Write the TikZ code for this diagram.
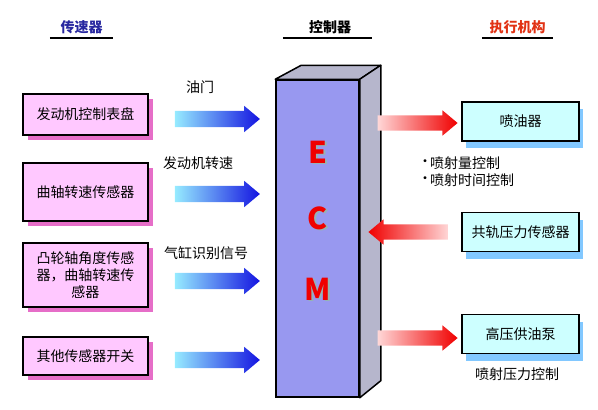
\documentclass[tikz,border=0pt]{standalone}
\usepackage{fontspec}
\setmainfont{Noto Sans CJK SC}
\usetikzlibrary{shapes.arrows,shadows,calc}
\tikzset{>=latex}
\definecolor{sensorfill}{RGB}{255,200,255}
\definecolor{sensorshadow}{RGB}{230,110,200}
\definecolor{actfill}{RGB}{205,255,255}
\definecolor{actshadow}{RGB}{130,200,255}
\definecolor{ecmfront}{RGB}{152,152,240}
\definecolor{ecmside}{RGB}{182,182,204}
\definecolor{inblue}{RGB}{20,20,225}
\definecolor{inlight}{RGB}{150,235,255}
\definecolor{outred}{RGB}{240,0,0}
\definecolor{outlight}{RGB}{255,215,215}
\definecolor{headblue}{RGB}{40,40,160}
\definecolor{headred}{RGB}{225,50,20}
\definecolor{halo}{RGB}{150,180,180}

\begin{document}
\begin{tikzpicture}[x=1pt,y=-1pt,font=\fontsize{14}{17}\selectfont]
	\tikzstyle{sensor} = [draw=black, line width=1.3pt, fill=sensorfill, minimum width=125pt, align=center, inner sep=0pt, drop shadow={shadow xshift=5pt, shadow yshift=-5pt, fill=sensorshadow, opacity=1}]
	\tikzstyle{actuator} = [draw=black, line width=1.3pt, fill=actfill, minimum width=117pt, minimum height=39pt, inner sep=0pt, drop shadow={shadow xshift=4pt, shadow yshift=-7pt, fill=actshadow, opacity=1}]
	\tikzstyle{header} = [font=\fontsize{14}{17}\selectfont\bfseries, minimum height=22pt, inner sep=0pt]
	\tikzstyle{underline} = [line width=2.5pt]
	\tikzstyle{signal} = [single arrow, minimum height=85pt, inner xsep=0pt, inner ysep=8pt, single arrow head extend=5pt, single arrow tip angle=80, left color=inlight, right color=inblue]
	\tikzstyle{command} = [single arrow, minimum height=80pt, inner xsep=0pt, inner ysep=7.5pt, single arrow head extend=5pt, single arrow tip angle=80]
	\tikzstyle{letter} = [text=outred, font=\fontsize{30}{30}\selectfont\bfseries, inner sep=0pt]

	\useasboundingbox (0,0) rectangle (598,410);

%----------标题------------------------------------------------
	\node[header, text=headblue, minimum width=63pt] (h1) at (81.5,27) {传速器};
	\node[header, minimum width=89pt] (h2) at (327.5,27) {\hspace{5pt}控制器};
	\node[header, text=headred, minimum width=71pt] (h3) at (517.5,27) {执行机构};

	\draw[underline] (h1.south west) -- (h1.south east);
	\draw[underline] (h2.south west) -- (h2.south east);
	\draw[underline] (h3.south west) -- (h3.south east);

%----------传感器----------------------------------------------
	\node[sensor, minimum height=41pt] (s1) at (85.5,114.5) {发动机控制表盘};
	\node[sensor, minimum height=58pt] (s2) at (85.5,192) {曲轴转速传感器};
	\node[sensor, minimum height=64pt] (s3) at (85.5,275) {凸轮轴角度传感\\器，曲轴转速传\\感器};
	\node[sensor, minimum height=38pt] (s4) at (85.5,356) {其他传感器开关};

	\node[signal] (a1) at (212.5,119) {};
	\node[signal] (a2) at (212.5,194) {};
	\node[signal] (a3) at (212.5,281) {};
	\node[signal] (a4) at (212.5,360) {};

	\node (l1) at (200,87) {油门};
	\node (l2) at (198,163) {发动机转速};
	\node (l3) at (206,253) {气缸识别信号};

%----------ECM-------------------------------------------------
	\node[draw=black, line width=1.5pt, fill=ecmfront, minimum width=83pt, minimum height=317pt, inner sep=0pt] (ecm) at (317.5,238.5) {};

	\draw[line width=1.5pt, line join=round, fill=ecmside] (ecm.north west) -- ++(26,-14) -- ($(ecm.north east)+(21,-14)$) -- (ecm.north east) -- cycle;
	\draw[line width=1.5pt, line join=round, fill=ecmside] (ecm.north east) -- ++(21,-14) -- ($(ecm.south east)+(21,-17)$) -- (ecm.south east) -- cycle;

	\node[letter] (e) at (318,153) {\rlap{\kern1.5pt\raisebox{-1.5pt}{\color{halo}E}}E};
	\node[letter] (c) at (318,219) {\rlap{\kern1.5pt\raisebox{-1.5pt}{\color{halo}C}}C};
	\node[letter] (m) at (318,290) {\rlap{\kern1.5pt\raisebox{-1.5pt}{\color{halo}M}}M};

%----------执行机构--------------------------------------------
	\node[actuator] (o1) at (520.5,121.5) {喷油器};
	\node[actuator] (o2) at (520.5,232) {共轨压力传感器};
	\node[actuator] (o3) at (520.5,334) {高压供油泵};

	\node[command, left color=outlight, right color=outred] (r1) at (413,123) {};
	\node[command, left color=outred, right color=outlight, shape border rotate=180] (r2) at (413,232) {};
	\node[command, left color=outlight, right color=outred] (r3) at (413,338) {};

	\node[align=left] (q1) at (466,172) {\raisebox{2pt}{·}\kern-2pt喷射量控制\\\raisebox{2pt}{·}\kern-2pt喷射时间控制};
	\node (q3) at (517,374) {喷射压力控制};

\end{tikzpicture}
\end{document}
